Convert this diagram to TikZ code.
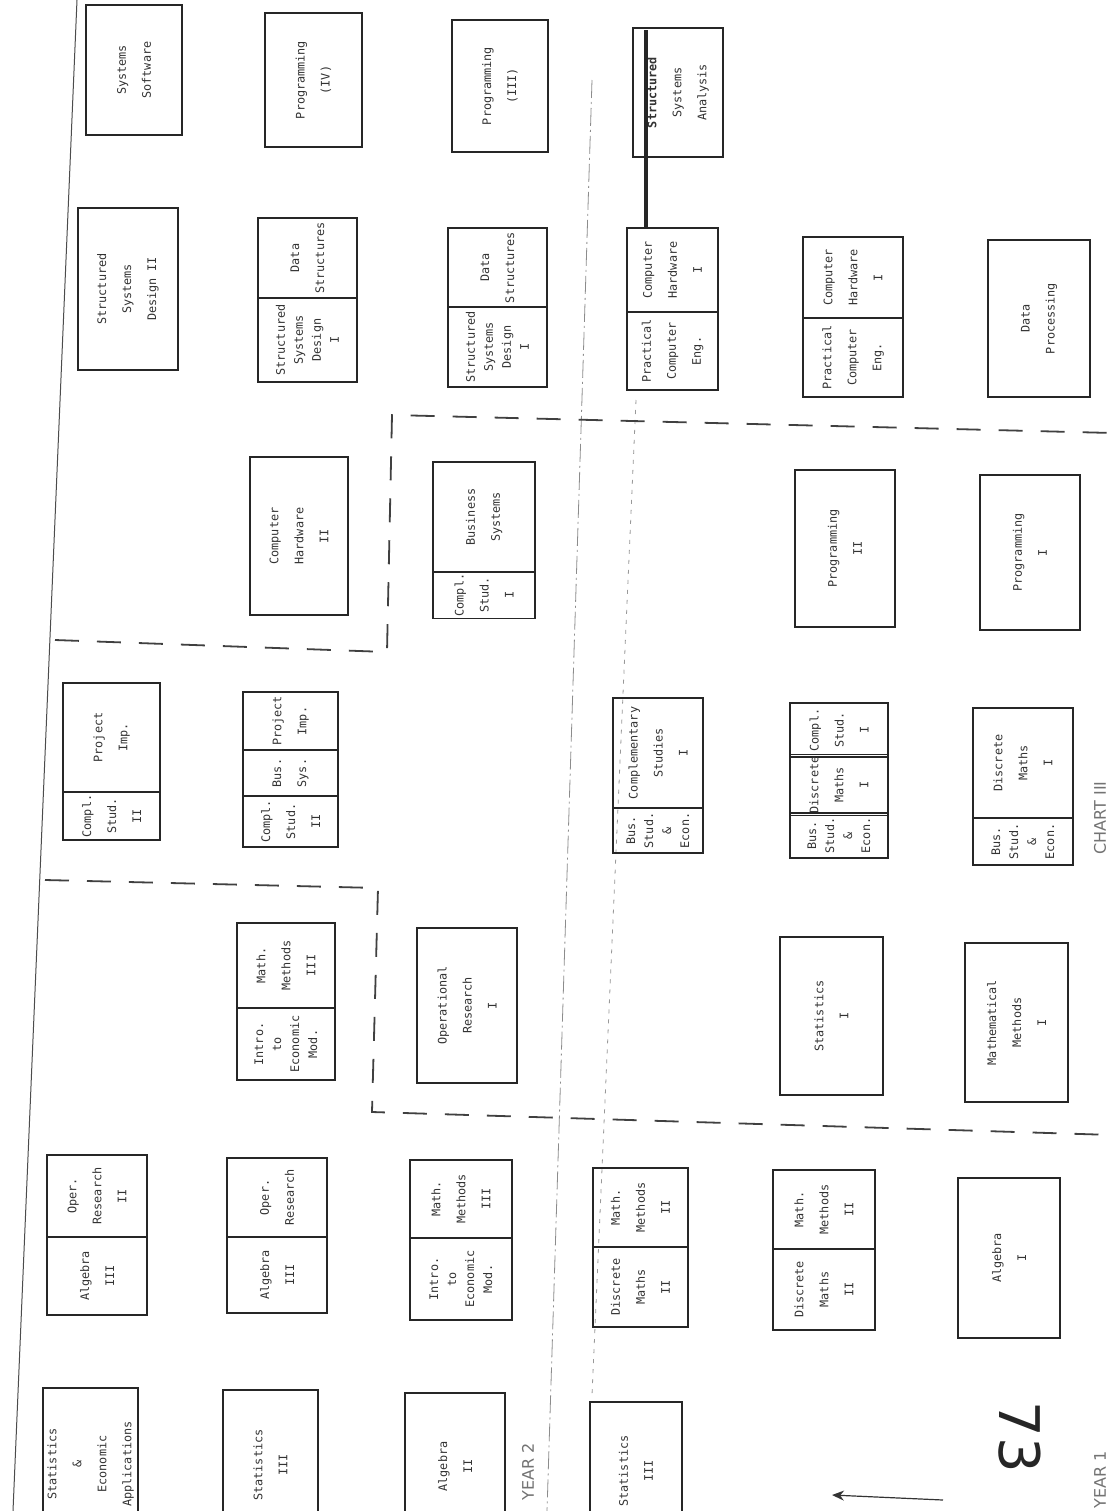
\documentclass[tikz,border=0pt]{standalone}
\usepackage{fontspec}
\usetikzlibrary{arrows.meta}
\newfontfamily\crsfont{DejaVu Sans Mono}
\newfontfamily\handfont{DejaVu Sans}
\tikzset{
    crsbox/.style={draw=black!85, line width=0.7pt, rotate=90, align=center,
                inner sep=1pt, text=black!80,
                font=\crsfont\fontsize{5.9}{12.5}\selectfont},
    crstight/.style={font=\crsfont\fontsize{5.9}{9}\selectfont},
    crsdash/.style={line width=0.9pt, black!75, dash pattern=on 12pt off 9pt},
    crsguide/.style={line width=0.4pt, black!45, dash pattern=on 9pt off 2pt on 1pt off 2pt},
    crsdot/.style={line width=0.4pt, black!40, dash pattern=on 2pt off 3pt},
    crslink/.style={line width=2pt, black!85},
    crslbl/.style={font=\handfont\fontsize{8}{8}\selectfont, text=black!55, rotate=90},
    crsarr/.style={-{Stealth[length=6pt, width=5pt]}, line width=0.6pt, black!80},
}

\begin{document}
\begin{tikzpicture}[x=0.5pt, y=-0.5pt]

    \useasboundingbox (0,0) rectangle (1113,1511);
    \fill[white] (0,0) rectangle (1113,1511);
    \clip (0,0) rectangle (1113,1511);

    % page edge and year dividers
    \draw[line width=0.5pt, black!70] (77,0) -- (13,1511);
    \draw[crsguide] (592,80) -- (547,1511);
    \draw[crsdot] (636,400) -- (592,1395);
    \draw[crsdash] (55,640) -- (387,652) -- (392,415) -- (1113,433);
    \draw[crsdash] (45,880) -- (378,888) -- (372,1112) -- (1113,1135);

    % row 1
    \node[crsbox, minimum width=65pt, minimum height=48pt] (sysw) at (134,70) {Systems\\Software};
    \node[crsbox, minimum width=67pt, minimum height=48.5pt] (prog4) at (313.5,80) {Programming\\(IV)};
    \node[crsbox, minimum width=66pt, minimum height=48pt] (prog3) at (500,86) {Programming\\(III)};
    \node[crsbox, minimum width=64.5pt, minimum height=45pt] (ssa) at (678,92.5) {\textbf{Structured}\\Systems\\Analysis};

    % row 2
    \node[crsbox, minimum width=81pt, minimum height=50pt] (ssd2) at (128,289) {Structured\\Systems\\Design II};
    \node[crsbox, minimum width=40pt, minimum height=49.5pt] (ds1) at (307.5,258) {Data\\Structures};
    \node[crsbox, crstight, minimum width=42pt, minimum height=49.5pt] (ssd1) at (307.5,340) {Structured\\Systems\\Design\\I};
    \node[crsbox, minimum width=39.5pt, minimum height=49.5pt] (ds2) at (497.5,267.5) {Data\\Structures};
    \node[crsbox, crstight, minimum width=40pt, minimum height=49.5pt] (ssd1b) at (497.5,347) {Structured\\Systems\\Design\\I};
    \node[crsbox, minimum width=42pt, minimum height=45.5pt] (ch1) at (672.5,270) {Computer\\Hardware\\I};
    \node[crsbox, minimum width=39pt, minimum height=45.5pt] (pce) at (672.5,351) {Practical\\Computer\\Eng.};
    \node[crsbox, minimum width=40.5pt, minimum height=50pt] (ch1b) at (853,277.5) {Computer\\Hardware\\I};
    \node[crsbox, minimum width=39.5pt, minimum height=50pt] (pceb) at (853,357.5) {Practical\\Computer\\Eng.};
    \node[crsbox, minimum width=78.5pt, minimum height=51pt] (dp) at (1039,318.5) {Data\\Processing};

    \coordinate (ssatop) at (646,30);
    \draw[crslink] (ch1.east -| ssatop) -- (ssatop);

    % row 3
    \node[crsbox, minimum width=79pt, minimum height=49pt] (ch2) at (299,536) {Computer\\Hardware\\II};
    \node[crsbox, minimum width=55pt, minimum height=51pt] (bsys) at (484,517) {Business\\Systems};
    \node[crsbox, minimum width=23pt, minimum height=51pt] (cs1) at (484,595) {Compl.\\Stud.\\I};
    \node[crsbox, minimum width=78.5pt, minimum height=50pt] (prog2) at (845,548.5) {Programming\\II};
    \node[crsbox, minimum width=77.5pt, minimum height=50pt] (prog1) at (1030,552.5) {Programming\\I};

    % row 4
    \node[crsbox, minimum width=54.5pt, minimum height=48.5pt] (pimp) at (111.5,737.5) {Project\\Imp.};
    \node[crsbox, minimum width=24pt, minimum height=48.5pt] (cs2) at (111.5,816) {Compl.\\Stud.\\II};
    \node[crsbox, minimum width=29pt, minimum height=47.5pt] (pimp2) at (290.5,721) {Project\\Imp.};
    \node[crsbox, minimum width=23pt, minimum height=47.5pt] (bsys2) at (290.5,773) {Bus.\\Sys.};
    \node[crsbox, minimum width=25.5pt, minimum height=47.5pt] (cs2b) at (290.5,821.5) {Compl.\\Stud.\\II};
    \node[crsbox, minimum width=55pt, minimum height=45pt] (cstud) at (658,753) {Complementary\\Studies\\I};
    \node[crsbox, crstight, minimum width=22.5pt, minimum height=45pt] (bse) at (658,830.5) {Bus.\\Stud.\\\&\\Econ.};
    \node[crsbox, minimum width=27pt, minimum height=49pt] (cs1b) at (839,730) {Compl.\\Stud.\\I};
    \node[crsbox, minimum width=28pt, minimum height=49pt] (dm1) at (839,785) {Discrete\\Maths\\I};
    \node[crsbox, crstight, minimum width=22.5pt, minimum height=49pt] (bse2) at (839,835.5) {Bus.\\Stud.\\\&\\Econ.};
    \node[crsbox, minimum width=55pt, minimum height=50pt] (dm1b) at (1023,763) {Discrete\\Maths\\I};
    \node[crsbox, crstight, minimum width=23.5pt, minimum height=50pt] (bse3) at (1023,841.5) {Bus.\\Stud.\\\&\\Econ.};

    % row 5
    \node[crsbox, minimum width=42.5pt, minimum height=49pt] (mm3) at (286,965.5) {Math.\\Methods\\III};
    \node[crsbox, crstight, minimum width=36pt, minimum height=49pt] (iem) at (286,1044) {Intro.\\to\\Economic\\Mod.};
    \node[crsbox, minimum width=77.5pt, minimum height=50pt] (or1) at (467,1005.5) {Operational\\Research\\I};
    \node[crsbox, minimum width=79pt, minimum height=51.5pt] (stat1) at (831.5,1016) {Statistics\\I};
    \node[crsbox, minimum width=79.5pt, minimum height=51.5pt] (mathm1) at (1016.5,1022.5) {Mathematical\\Methods\\I};

    % row 6
    \node[crsbox, minimum width=41pt, minimum height=50pt] (or2) at (97,1196) {Oper.\\Research\\II};
    \node[crsbox, minimum width=39pt, minimum height=50pt] (alg3) at (97,1276) {Algebra\\III};
    \node[crsbox, minimum width=39.5pt, minimum height=50pt] (or3) at (277,1197.5) {Oper.\\Research};
    \node[crsbox, minimum width=38pt, minimum height=50pt] (alg3b) at (277,1275) {Algebra\\III};
    \node[crsbox, minimum width=39pt, minimum height=51pt] (mm3b) at (461,1199) {Math.\\Methods\\III};
    \node[crsbox, crstight, minimum width=41pt, minimum height=51pt] (iemb) at (461,1279) {Intro.\\to\\Economic\\Mod.};
    \node[crsbox, minimum width=39.5pt, minimum height=47.5pt] (mm2) at (640.5,1207.5) {Math.\\Methods\\II};
    \node[crsbox, minimum width=40pt, minimum height=47.5pt] (dm2) at (640.5,1287) {Discrete\\Maths\\II};
    \node[crsbox, minimum width=39.5pt, minimum height=51pt] (mm2b) at (824,1209.5) {Math.\\Methods\\II};
    \node[crsbox, minimum width=40.5pt, minimum height=51pt] (dm2b) at (824,1289.5) {Discrete\\Maths\\II};
    \node[crsbox, minimum width=80pt, minimum height=51pt] (alg1) at (1009,1258) {Algebra\\I};

    % row 7 (runs off the page)
    \node[crsbox, minimum width=76pt, minimum height=47.5pt] (sea) at (90.5,1464) {Statistics\\\&\\Economic\\Applications};
    \node[crsbox, minimum width=75pt, minimum height=47.5pt] (stat3) at (270.5,1465) {Statistics\\III};
    \node[crsbox, minimum width=73.5pt, minimum height=50pt] (alg2) at (455,1466.5) {Algebra\\II};
    \node[crsbox, minimum width=69pt, minimum height=46pt] (stat3b) at (636,1471) {Statistics\\III};

    % hand-written marks
    \node[crslbl] (yr2) at (528,1472) {YEAR 2};
    \node[crslbl] (yr1) at (1100,1480) {YEAR 1};
    \node[crslbl] (chart) at (1100,818) {CHART III};
    \node[font=\handfont\fontsize{28}{28}\selectfont, text=black!85, rotate=-90] (pgno) at (1020,1437) {73};
    \coordinate (arrtail) at (943,1500);
    \coordinate (arrhead) at (832,1495);
    \draw[crsarr] (arrtail) -- (arrhead);

\end{tikzpicture}
\end{document}
